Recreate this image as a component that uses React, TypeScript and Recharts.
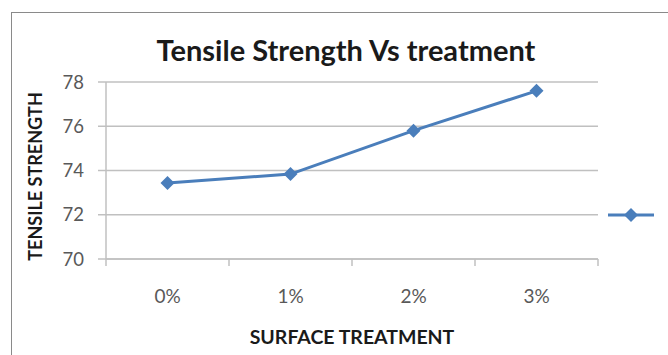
import { LineChart, Line, XAxis, YAxis, CartesianGrid, Legend, Label } from "recharts";

const treatments = ["0%", "1%", "2%", "3%"];
const strength = [73.43, 73.84, 75.8, 77.6];
const yTicks = [70, 72, 74, 76, 78];
const bandEdges = [0, 1, 2, 3, 4];

// slot positions on the numeric axis that carries the between-category ticks
const data = treatments.map((t, i) => ({ treatment: t, slot: i + 0.5, strength: strength[i] }));

const BLUE = "#4a7ebb";
const GRID = "#c0c0c0";
const FONT = "Lato, 'Open Sans', sans-serif";

function Diamond({ cx, cy, r = 7 }: { cx: number; cy: number; r?: number }) {
  return (
    <path
      d={`M${cx},${cy - r}L${cx + r},${cy}L${cx},${cy + r}L${cx - r},${cy}Z`}
      fill={BLUE}
      stroke="none"
    />
  );
}

function LegendKey() {
  return (
    <svg width={48} height={16}>
      <line x1={1} y1={8} x2={47} y2={8} stroke={BLUE} strokeWidth={3} />
      <Diamond cx={24} cy={8} r={7} />
    </svg>
  );
}

export default function App() {
  return (
    <div
      style={{
        position: "fixed",
        left: 0,
        top: 0,
        width: 668,
        height: 355,
        overflow: "hidden",
        background: "#fff",
        fontFamily: FONT,
      }}
    >
      {/* chart area frame */}
      <div
        style={{
          position: "absolute",
          left: 11,
          top: 12,
          width: 720,
          height: 420,
          border: "1.5px solid #8a8a8a",
        }}
      />
      <div
        style={{
          position: "absolute",
          left: 0,
          width: 692,
          top: 33,
          textAlign: "center",
          fontSize: 29,
          fontWeight: 700,
          color: "#1a1a1a",
          lineHeight: "34px",
        }}
      >
        Tensile Strength Vs treatment
      </div>
      <LineChart
        width={668}
        height={355}
        data={data}
        margin={{ top: 82, right: 22, left: 0, bottom: 0 }}
        style={{ position: "absolute", left: 0, top: 0 }}
      >
        <CartesianGrid vertical={false} xAxisId="cat" stroke={GRID} strokeWidth={1.5} />
        <XAxis
          xAxisId="cat"
          dataKey="treatment"
          scale="band"
          height={95}
          axisLine={false}
          tickLine={false}
          tickSize={0}
          tickMargin={30}
          tick={{ fill: "#595959", fontSize: 19, fontFamily: FONT }}
        >
          <Label
            content={({ viewBox }: any) => (
              <text
                x={viewBox.x + viewBox.width / 2}
                y={viewBox.y + 84}
                textAnchor="middle"
                fontSize={19.5}
                fontWeight={700}
                fontFamily={FONT}
                fill="#1a1a1a"
              >
                SURFACE TREATMENT
              </text>
            )}
          />
        </XAxis>
        {/* numeric axis: only draws the tick marks between categories */}
        <XAxis
          dataKey="slot"
          type="number"
          domain={[0, 4]}
          ticks={bandEdges}
          interval={0}
          tick={() => <g />}
          tickLine={{ stroke: GRID, strokeWidth: 1.5 }}
          height={1}
          tickSize={7}
          stroke={GRID}
          strokeWidth={1.5}
          allowDataOverflow
        />
        <YAxis
          domain={[70, 78]}
          ticks={yTicks}
          width={106}
          stroke={GRID}
          strokeWidth={1.5}
          tickSize={8}
          tickMargin={14}
          tick={{ fill: "#595959", fontSize: 18.5, fontFamily: FONT }}
        >
          <Label
            content={({ viewBox }: any) => {
              const x = 35;
              const y = viewBox.y + viewBox.height / 2 + 6;
              return (
                <text
                  x={x}
                  y={y}
                  transform={`rotate(-90 ${x} ${y})`}
                  textAnchor="middle"
                  dominantBaseline="central"
                  fontSize={18}
                  fontWeight={700}
                  fontFamily={FONT}
                  fill="#1a1a1a"
                >
                  TENSILE STRENGTH
                </text>
              );
            }}
          />
        </YAxis>
        <Legend
          layout="vertical"
          align="right"
          verticalAlign="top"
          content={() => <LegendKey />}
          wrapperStyle={{ position: "absolute", left: 607, top: 207, width: 48 }}
        />
        {/* invisible series that keeps the tick-mark axis active */}
        <Line
          dataKey="strength"
          stroke="none"
          dot={false}
          activeDot={false}
          legendType="none"
          isAnimationActive={false}
        />
        <Line
          xAxisId="cat"
          dataKey="strength"
          stroke={BLUE}
          strokeWidth={3}
          isAnimationActive={false}
          dot={(p: any) => <Diamond key={p.index} cx={p.cx} cy={p.cy} />}
          activeDot={false}
        />
      </LineChart>
    </div>
  );
}
